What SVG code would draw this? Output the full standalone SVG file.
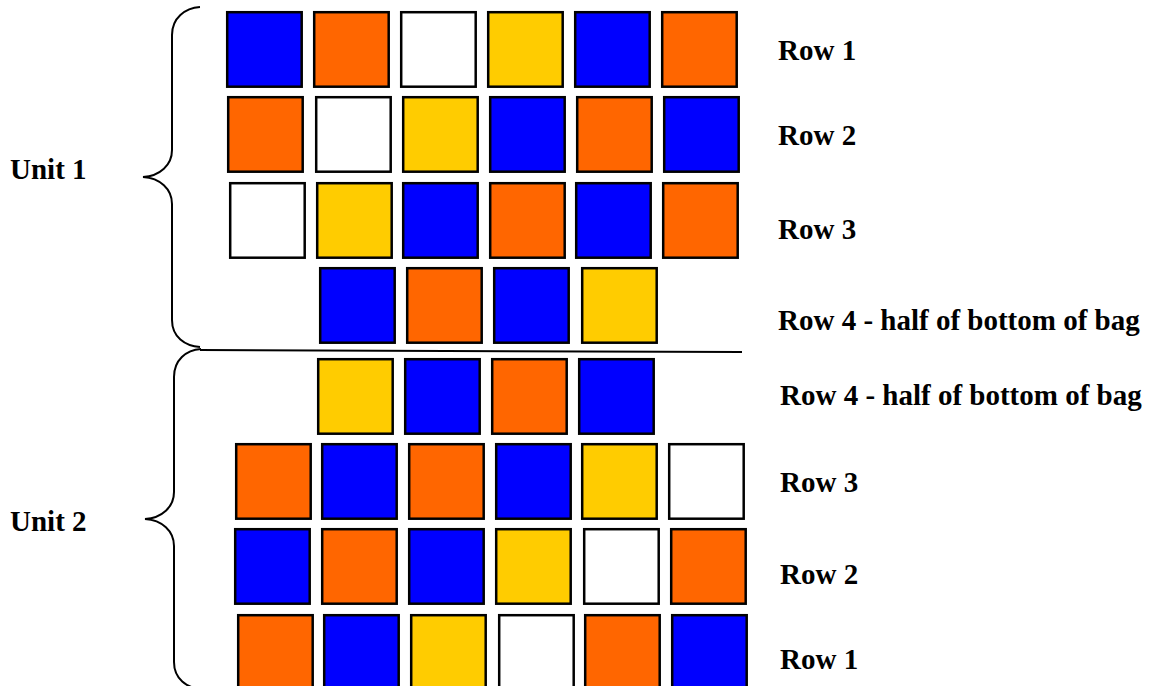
<svg xmlns="http://www.w3.org/2000/svg" width="1154" height="686" viewBox="0 0 1154 686">
<style>
rect{stroke:#000;stroke-width:2.5;width:74.5px;height:74.5px}
.b{fill:#0000FF}.o{fill:#FF6600}.w{fill:#FFFFFF}.y{fill:#FFCC00}
text{font-family:"Liberation Serif","Times New Roman",serif;font-weight:bold;font-size:29px;fill:#000}
.ln{fill:none;stroke:#000;stroke-width:2}
</style>
<rect x="0" y="0" width="1154" height="686" style="fill:#fff;stroke:none;width:1154px;height:686px"/>
<g id="connectors">
<path class="ln" d="M200,7 C185,8 172,18 172,35 L172,150 C172,165 160,176 143,177 C160,178 172,189 172,204 L172,320 C172,337 185,346 200,347"/>
<path class="ln" d="M201,349 C186,350 174,360 174,377 L174,492 C174,507 162,518 145,519 C162,520 174,531 174,546 L174,662 C174,679 187,688 201,689"/>
<line class="ln" x1="200" y1="350" x2="742" y2="352"/>
</g>
<g id="unit1-label"><text x="10" y="179">Unit 1</text></g>
<g id="unit2-label"><text x="10" y="531">Unit 2</text></g>
<g id="u1-row1">
<rect class="b" x="227.2" y="12.2"/><rect class="o" x="314.2" y="12.2"/><rect class="w" x="401.2" y="12.2"/><rect class="y" x="488.2" y="12.2"/><rect class="b" x="575.2" y="12.2"/><rect class="o" x="662.2" y="12.2"/>
<text x="778" y="60">Row 1</text>
</g>
<g id="u1-row2">
<rect class="o" x="228.2" y="97.2"/><rect class="w" x="316.2" y="97.2"/><rect class="y" x="403.2" y="97.2"/><rect class="b" x="490.2" y="97.2"/><rect class="o" x="577.2" y="97.2"/><rect class="b" x="664.2" y="97.2"/>
<text x="778" y="145">Row 2</text>
</g>
<g id="u1-row3">
<rect class="w" x="230.2" y="183.2"/><rect class="y" x="317.2" y="183.2"/><rect class="b" x="403.2" y="183.2"/><rect class="o" x="490.2" y="183.2"/><rect class="b" x="576.2" y="183.2"/><rect class="o" x="663.2" y="183.2"/>
<text x="778" y="239">Row 3</text>
</g>
<g id="u1-row4">
<rect class="b" x="320.2" y="268.2"/><rect class="o" x="407.2" y="268.2"/><rect class="b" x="494.2" y="268.2"/><rect class="y" x="582.2" y="268.2"/>
<text x="778" y="330">Row 4 - half of bottom of bag</text>
</g>
<g id="u2-row4">
<rect class="y" x="318.2" y="359.2"/><rect class="b" x="405.2" y="359.2"/><rect class="o" x="492.2" y="359.2"/><rect class="b" x="579.2" y="359.2"/>
<text x="780" y="405">Row 4 - half of bottom of bag</text>
</g>
<g id="u2-row3">
<rect class="o" x="236.2" y="444.2"/><rect class="b" x="322.2" y="444.2"/><rect class="o" x="409.2" y="444.2"/><rect class="b" x="496.2" y="444.2"/><rect class="y" x="582.2" y="444.2"/><rect class="w" x="669.2" y="444.2"/>
<text x="780" y="492">Row 3</text>
</g>
<g id="u2-row2">
<rect class="b" x="235.2" y="529.2"/><rect class="o" x="322.2" y="529.2"/><rect class="b" x="409.2" y="529.2"/><rect class="y" x="496.2" y="529.2"/><rect class="w" x="584.2" y="529.2"/><rect class="o" x="671.2" y="529.2"/>
<text x="780" y="584">Row 2</text>
</g>
<g id="u2-row1">
<rect class="o" x="238.2" y="615.2"/><rect class="b" x="324.2" y="615.2"/><rect class="y" x="411.2" y="615.2"/><rect class="w" x="499.2" y="615.2"/><rect class="o" x="585.2" y="615.2"/><rect class="b" x="672.2" y="615.2"/>
<text x="780" y="669">Row 1</text>
</g>
</svg>
